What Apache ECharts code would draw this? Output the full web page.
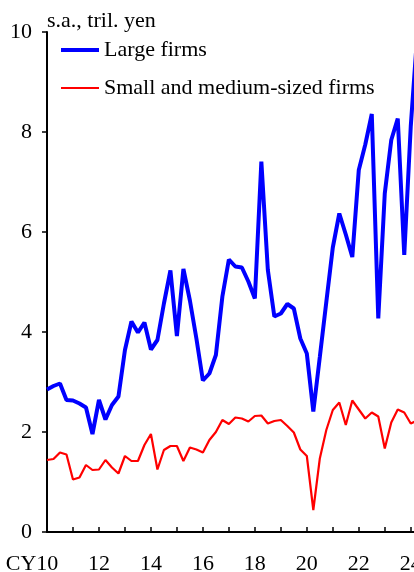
<!DOCTYPE html>
<html><head><meta charset="utf-8">
<script src="https://cdn.jsdelivr.net/npm/echarts@6/dist/echarts.min.js"></script>
<style>html,body{margin:0;padding:0;background:#fff}#c{width:414px;height:572px}</style>
</head><body><div id="c"></div>
<script>
// Quarterly data from 2010Q1 (index 0), s.a., tril. yen
const largeFirms = [2.85,2.92,2.97,2.64,2.63,2.57,2.49,1.96,2.64,2.25,2.54,2.71,3.64,4.21,3.99,4.19,3.65,3.84,4.57,5.23,3.92,5.26,4.63,3.87,3.03,3.17,3.54,4.71,5.45,5.31,5.29,5.01,4.67,7.41,5.24,4.31,4.37,4.56,4.47,3.87,3.57,2.41,3.5,4.6,5.69,6.37,5.95,5.5,7.24,7.75,8.36,4.27,6.77,7.84,8.27,5.54,8.11,9.95];
const smallMediumFirms = [1.44,1.46,1.59,1.55,1.05,1.09,1.34,1.24,1.25,1.44,1.29,1.17,1.52,1.42,1.42,1.74,1.96,1.25,1.64,1.72,1.72,1.42,1.69,1.65,1.59,1.84,2.0,2.24,2.16,2.29,2.27,2.21,2.32,2.33,2.17,2.22,2.24,2.12,1.99,1.65,1.52,0.44,1.47,2.04,2.44,2.59,2.14,2.63,2.45,2.27,2.39,2.31,1.67,2.19,2.45,2.39,2.17,2.23];
const seriesNames = ['Large firms', 'Small and medium-sized firms'];
const yearLabels = ['CY10','12','14','16','18','20','22','24'];
const yTicks = ['0','2','4','6','8','10'];

const FONT = 'Liberation Serif';
const FS = 22;
const toPairs = arr => arr.map((v, i) => [i, v]);
const yearTickPos = [];
for (let q = 0; q <= 56; q += 4) yearTickPos.push(q);
const labelPos = yearLabels.map((_, k) => k * 8);
const labelMap = {};
labelPos.forEach((p, k) => labelMap[p] = yearLabels[k]);

const chart = echarts.init(document.getElementById('c'), null, {renderer: 'canvas'});
chart.setOption({
  animation: false,
  backgroundColor: '#fff',
  textStyle: {fontFamily: FONT, color: '#000'},
  grid: {left: 47, right: 0, top: 32, bottom: 40, containLabel: false, outerBoundsMode: 'none'},
  legend: {
    orient: 'vertical', left: 54, top: 34,
    itemWidth: 38, itemHeight: 14, itemGap: 16, itemTextGap: -5,
    textStyle: {fontFamily: FONT, fontSize: FS, color: '#000'},
    itemStyle: {opacity: 0},
    data: [
      {name: seriesNames[0], lineStyle: {color: '#0000ff', width: 4}},
      {name: seriesNames[1], lineStyle: {color: '#ff0000', width: 2.2}}
    ]
  },
  xAxis: {
    type: 'value', min: 0, max: 56.5,
    axisLine: {lineStyle: {color: '#000', width: 2}},
    axisTick: {inside: true, length: 5, lineStyle: {color: '#000', width: 1.5}, customValues: yearTickPos},
    axisLabel: {
      customValues: labelPos, margin: 21,
      fontFamily: FONT, fontSize: FS, color: '#000',
      formatter: v => v === 0 ? '{cy|' + labelMap[v] + '}' : (labelMap[v] || ''),
      rich: {cy: {fontFamily: FONT, fontSize: FS, color: '#000', padding: [0, 30, 0, 0]}}
    },
    splitLine: {show: false}
  },
  yAxis: {
    type: 'value', min: 0, max: 10, interval: 2,
    name: 's.a., tril. yen', nameLocation: 'end', nameGap: 0,
    nameTextStyle: {fontFamily: FONT, fontSize: FS, color: '#000', align: 'left', verticalAlign: 'bottom'},
    axisLine: {show: true, lineStyle: {color: '#000', width: 2}},
    axisTick: {show: true, inside: false, length: 5, lineStyle: {color: '#000', width: 1.5}},
    axisLabel: {margin: 15, fontFamily: FONT, fontSize: FS, color: '#000',
      formatter: v => yTicks[Math.round(v / 2)]},
    splitLine: {show: false}
  },
  series: [
    {name: seriesNames[0], type: 'line', data: toPairs(largeFirms), symbol: 'none',
     lineStyle: {color: '#0000ff', width: 4}, itemStyle: {color: '#0000ff'}, clip: true, z: 3},
    {name: seriesNames[1], type: 'line', data: toPairs(smallMediumFirms), symbol: 'none',
     lineStyle: {color: '#ff0000', width: 2.2}, itemStyle: {color: '#ff0000'}, clip: true, z: 2}
  ]
});
</script>
</body></html>
